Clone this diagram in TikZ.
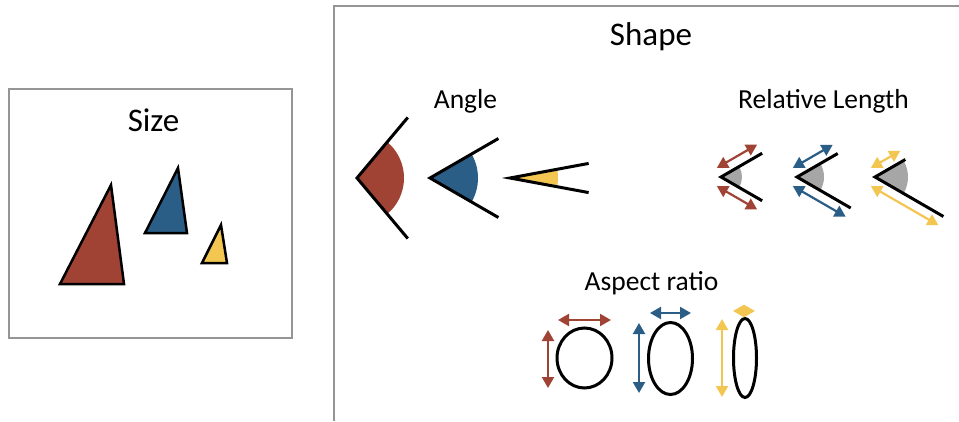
\documentclass[tikz,border=0pt]{standalone}
\usepackage{fontspec}
\setmainfont{Carlito}
\usetikzlibrary{arrows.meta,calc}
\definecolor{cred}{HTML}{A04335}
\definecolor{cblue}{HTML}{2A5E87}
\definecolor{cyel}{HTML}{F2C650}
\definecolor{cgray}{HTML}{A6A6A6}
\definecolor{cframe}{HTML}{959595}
\tikzset{
  frameline/.style={draw=cframe,line width=1.5pt},
  tri/.style={draw=black,line width=2.5pt,line join=miter},
  arm/.style={draw=black,line width=3pt},
  dbl/.style={line width=2.2pt,{Triangle[length=11pt,width=12pt]}-{Triangle[length=11pt,width=12pt]}},
  oval/.style={draw=black,line width=3pt},
  bigtitle/.style={anchor=base,font=\fontsize{33}{40}\selectfont},
  subtitle/.style={anchor=base,font=\fontsize{27.5}{33}\selectfont}
}
\begin{document}
\begin{tikzpicture}[x=1pt,y=-1pt]
\useasboundingbox (0,0) rectangle (959,421);
% frames
\draw[frameline] (9,89) rectangle (292,338);
\draw[frameline] (334,421) -- (334,6) -- (959,6);
% titles
\node[bigtitle] (tsize) at (153.5,131) {Size};
\node[bigtitle] (tshape) at (651,45) {Shape};
\node[subtitle] (tangle) at (465.5,108) {Angle};
\node[subtitle] (trel) at (823.5,108) {Relative Length};
\node[subtitle] (tasp) at (651.5,290) {Aspect ratio};
% size triangles
\draw[tri,fill=cred] (60,284) -- (124,284) -- (111,185) -- cycle;
\draw[tri,fill=cblue] (145,233) -- (187,233) -- (178,168) -- cycle;
\draw[tri,fill=cyel] (202,263) -- (227,263) -- (221,225) -- cycle;
% angles
\coordinate (va) at (357,178);
\fill[cred] (va) -- ++(-50:47) arc[start angle=-50,end angle=50,radius=47] -- cycle;
\draw[arm] ($(va)+(-50:79)$) -- (va) -- ($(va)+(50:79)$);
\coordinate (vb) at (430,178);
\fill[cblue] (vb) -- ++(-30:48) arc[start angle=-30,end angle=30,radius=48] -- cycle;
\draw[arm] ($(vb)+(-30:79)$) -- (vb) -- ($(vb)+(30:79)$);
\coordinate (vc) at (510,178);
\fill[cyel] (vc) -- ++(-10.5:48) arc[start angle=-10.5,end angle=10.5,radius=48] -- cycle;
\draw[arm] ($(vc)+(-10.5:80)$) -- (vc) -- ($(vc)+(10.5:80)$);
% relative length
\foreach \vx/\up/\lo/\rr/\col in {721/47.5/47.5/21/cred, 797/47/62/27/cblue, 875/35/79/33/cyel}{
  \coordinate (v) at (\vx,177);
  \fill[cgray] (v) -- ++(-30:\rr) arc[start angle=-30,end angle=30,radius=\rr] -- cycle;
  \draw[arm] ($(v)+(-30:\up)$) -- (v) -- ($(v)+(30:\lo)$);
  \draw[dbl,draw=\col,fill=\col] ($(v)+(-120:10)+(-30:1)$) -- ($(v)+(-120:10)+(-30:\up)$);
  \draw[dbl,draw=\col,fill=\col] ($(v)+(120:10)+(30:1)$) -- ($(v)+(120:10)+(30:\lo)$);
}
% aspect ratio
\draw[oval] (584.5,358) ellipse[x radius=27.5,y radius=30];
\draw[dbl,draw=cred,fill=cred] (548,330) -- (548,388);
\draw[dbl,draw=cred,fill=cred] (558,320) -- (611,320);
\draw[oval] (670.5,358.5) ellipse[x radius=22,y radius=36];
\draw[dbl,draw=cblue,fill=cblue] (639,323) -- (639,393);
\draw[dbl,draw=cblue,fill=cblue] (650,313) -- (691,313);
\draw[oval] (745,358) ellipse[x radius=11.5,y radius=39.5];
\draw[dbl,draw=cyel,fill=cyel] (722,319) -- (722,397);
\draw[dbl,draw=cyel,fill=cyel] (733,311) -- (755,311);
\end{tikzpicture}
\end{document}
